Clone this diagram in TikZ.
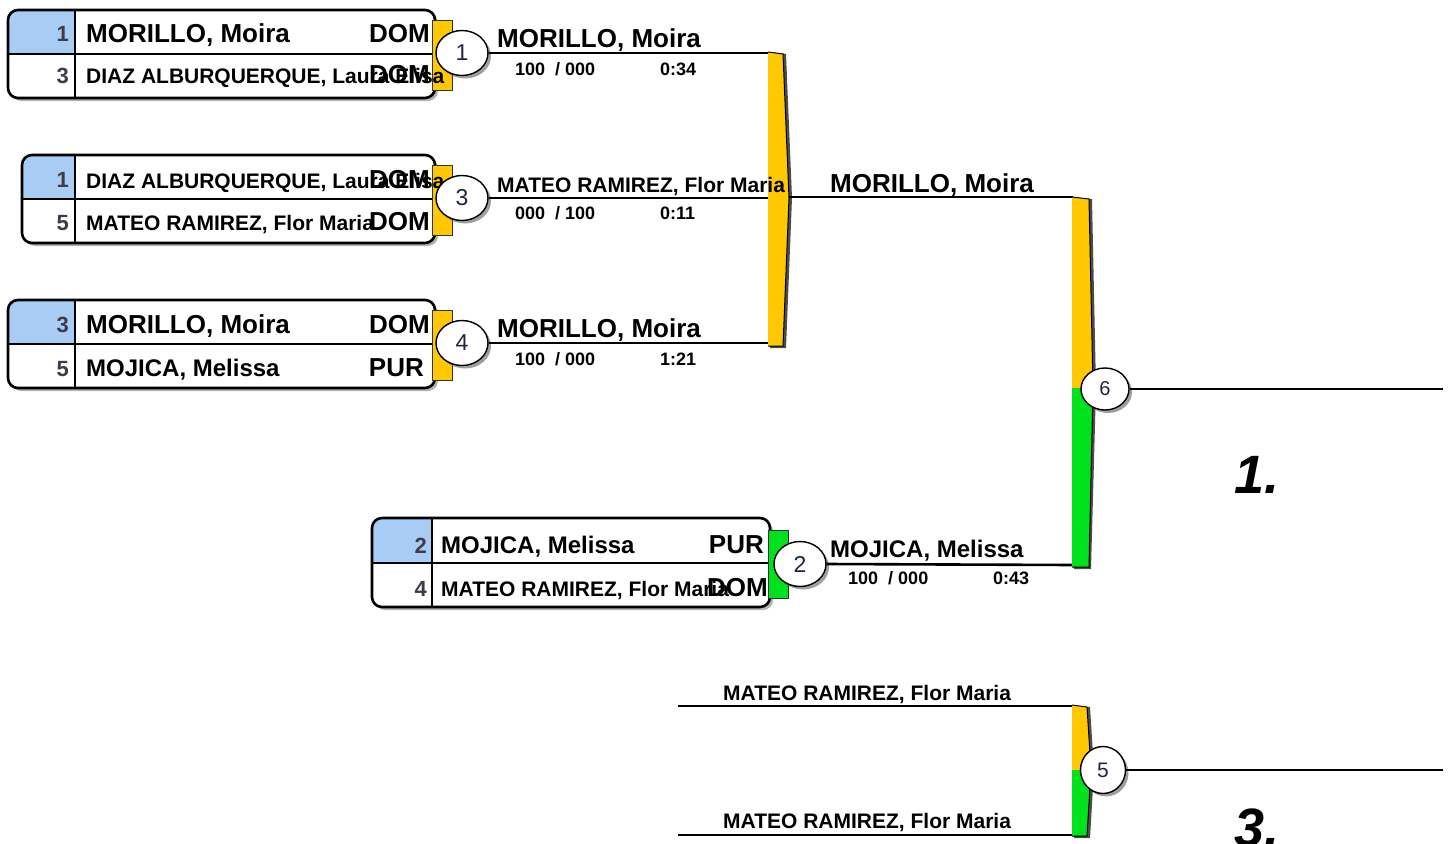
\documentclass[tikz,border=0pt]{standalone}
\usepackage{fontspec}
\setmainfont{Liberation Sans}
\usetikzlibrary{shapes.geometric,shadows}
\definecolor{gold}{RGB}{255,200,0}
\definecolor{grn}{RGB}{0,225,30}
\definecolor{seedblue}{RGB}{168,204,244}
\definecolor{seedgray}{RGB}{60,60,75}
\definecolor{numnavy}{RGB}{35,35,65}
\newcommand{\fbig}{\fontsize{26}{26}\selectfont\bfseries}
\newcommand{\fbigm}{\fontsize{24}{24}\selectfont\bfseries}
\newcommand{\fmid}{\fontsize{21}{21}\selectfont\bfseries}
\newcommand{\fsc}{\fontsize{18}{18}\selectfont\bfseries}
% #1 left, #2 top, #3 right, #4 bottom, #5 seed col right, #6 divider y
\newcommand{\entryframe}[6]{%
  \fill[black!30,rounded corners=10pt] (#1+3,#2+3) rectangle (#3+3,#4+3);
  \fill[white,rounded corners=10pt] (#1,#2) rectangle (#3,#4);
  \begin{scope}
    \clip[rounded corners=10pt] (#1,#2) rectangle (#3,#4);
    \fill[seedblue] (#1,#2) rectangle (#5,#6);
  \end{scope}
  \draw[line width=1.2pt] (#1,#6) -- (#3,#6);
  \draw[line width=1.2pt] (#5,#2) -- (#5,#4);
  \draw[line width=2.6pt,rounded corners=10pt] (#1,#2) rectangle (#3,#4);
}
\tikzset{
  mcirc/.style={ellipse,draw,line width=1.4pt,fill=white,minimum width=52pt,
    minimum height=45pt,inner sep=0pt,text=numnavy,font=\fontsize{23}{23}\selectfont,
    drop shadow={shadow xshift=3pt,shadow yshift=-3pt,fill=black!75}},
  wline/.style={line width=2.6pt},
  big/.style={font=\fbig,inner sep=0pt},
  bigm/.style={font=\fbigm,inner sep=0pt},
  mid/.style={font=\fmid,inner sep=0pt},
  sc/.style={font=\fsc,inner sep=0pt},
  seed/.style={font=\fontsize{22}{22}\selectfont\bfseries,inner sep=0pt,text=seedgray,anchor=base east},
  tab/.style={draw=black!80,line width=0.8pt}
}
\begin{document}
\begin{tikzpicture}[x=1pt,y=-1pt]
\useasboundingbox (0,0) rectangle (1450,843);

% group bar (drawn first so texts lie on top)
\fill[black!70] (770,52) -- (786,54) -- (792,198) -- (786,348) -- (770,348) -- cycle;
\fill[gold] (768,52) -- (783,54) -- (789,198) -- (783,346) -- (768,346) -- cycle;
\draw[line width=1pt] (768,52) -- (783,54) -- (789,198) -- (783,346) -- (768,346);

% ---------------- Match 1 ----------------
\entryframe{8}{10}{435}{98}{75}{54}
\filldraw[fill=gold,tab] (432,20) rectangle (452,90);
\node[seed] (s1a) at (69,42) {1};
\node[big,anchor=base west] (n1a) at (86,43) {MORILLO, Moira};
\node[big,anchor=base east] (c1a) at (430,43) {DOM};
\node[seed] (s1b) at (69,84) {3};
\node[mid,anchor=base west] (n1b) at (86,84) {DIAZ ALBURQUERQUE, Laura Elisa};
\node[big,anchor=base east] (c1b) at (430,84) {DOM};
\node[mcirc] (m1) at (462,53) {1};
\coordinate (g1a) at (768,53);
\draw[wline] (m1.east) -- (g1a);
\node[big,anchor=base west] (w1) at (497,48) {MORILLO, Moira};
\node[sc,anchor=base west] (sc1) at (515,75) {100\ \ / 000};
\node[sc,anchor=base west] (t1) at (660,75) {0:34};

% ---------------- Match 3 ----------------
\entryframe{22}{155}{435}{243}{75}{199}
\filldraw[fill=gold,tab] (432,165) rectangle (452,235);
\node[seed] (s3a) at (69,187) {1};
\node[mid,anchor=base west] (n3a) at (86,188) {DIAZ ALBURQUERQUE, Laura Elisa};
\node[big,anchor=base east] (c3a) at (430,188) {DOM};
\node[seed] (s3b) at (69,230) {5};
\node[mid,anchor=base west] (n3b) at (86,230) {MATEO RAMIREZ, Flor Maria};
\node[big,anchor=base east] (c3b) at (430,230) {DOM};
\node[mcirc] (m3) at (462,198) {3};
\coordinate (g1b) at (768,198);
\draw[wline] (m3.east) -- (g1b);
\node[mid,anchor=base west] (w3) at (497,192) {MATEO RAMIREZ, Flor Maria};
\node[sc,anchor=base west] (sc3) at (515,219) {000\ \ / 100};
\node[sc,anchor=base west] (t3) at (660,219) {0:11};

% ---------------- Match 4 ----------------
\entryframe{8}{300}{435}{388}{75}{344}
\filldraw[fill=gold,tab] (432,310) rectangle (452,380);
\node[seed] (s4a) at (69,332) {3};
\node[big,anchor=base west] (n4a) at (86,333) {MORILLO, Moira};
\node[big,anchor=base east] (c4a) at (430,333) {DOM};
\node[seed] (s4b) at (69,376) {5};
\node[bigm,anchor=base west] (n4b) at (86,376) {MOJICA, Melissa};
\node[big,anchor=base east] (c4b) at (424,376) {PUR};
\node[mcirc] (m4) at (462,343) {4};
\coordinate (g1c) at (768,343);
\draw[wline] (m4.east) -- (g1c);
\node[big,anchor=base west] (w4) at (497,337) {MORILLO, Moira};
\node[sc,anchor=base west] (sc4) at (515,365) {100\ \ / 000};
\node[sc,anchor=base west] (t4) at (660,365) {1:21};

\coordinate (g1out) at (789,197);
\coordinate (f6a) at (1073,197);
\draw[wline] (g1out) -- (f6a);
\node[big,anchor=base west] (wg) at (830,192) {MORILLO, Moira};

% ---------------- Match 2 ----------------
\entryframe{372}{518}{770}{607}{432}{563}
\filldraw[fill=grn,tab] (768,530) rectangle (788,598);
\node[seed] (s2a) at (427,553) {2};
\node[bigm,anchor=base west] (n2a) at (441,553) {MOJICA, Melissa};
\node[big,anchor=base east] (c2a) at (764,553) {PUR};
\node[seed] (s2b) at (427,596) {4};
\node[mid,anchor=base west] (n2b) at (441,596) {MATEO RAMIREZ, Flor Maria};
\node[big,anchor=base east] (c2b) at (768,596) {DOM};
\node[mcirc] (m2) at (800,564) {2};
\coordinate (f6b) at (1073,565);
\draw[wline] (m2.east) -- (f6b);
\node[bigm,anchor=base west] (w2) at (830,557) {MOJICA, Melissa};
\node[sc,anchor=base west] (sc2) at (848,584) {100\ \ / 000};
\node[sc,anchor=base west] (t2) at (993,584) {0:43};

% ---------------- Final (6) ----------------
\fill[black!70] (1074,198) -- (1092,199) -- (1096,388) -- (1091,569) -- (1074,569) -- cycle;
\fill[gold] (1072,197) -- (1089,199) -- (1093,388) -- (1072,388) -- cycle;
\fill[grn] (1072,388) -- (1093,388) -- (1089,567) -- (1072,567) -- cycle;
\draw[line width=1pt] (1072,197) -- (1089,199) -- (1093,388) -- (1089,567) -- (1072,567);
\node[mcirc,minimum width=48pt,minimum height=42pt,font=\fontsize{20}{20}\selectfont] (m6) at (1105,389) {6};
\coordinate (e6) at (1443,389);
\draw[line width=2pt] (m6.east) -- (e6);
\node[inner sep=0pt,anchor=base west,font=\fontsize{54}{54}\selectfont\bfseries\itshape] (p1) at (1234,493) {1.};

% ---------------- Bronze (5) ----------------
\coordinate (l5a) at (678,706);
\coordinate (r5a) at (1073,706);
\coordinate (l5b) at (678,835);
\coordinate (r5b) at (1073,835);
\draw[wline] (l5a) -- (r5a);
\draw[wline] (l5b) -- (r5b);
\node[mid,anchor=base west] (b5a) at (723,700) {MATEO RAMIREZ, Flor Maria};
\node[mid,anchor=base west] (b5b) at (723,828) {MATEO RAMIREZ, Flor Maria};
\fill[black!70] (1074,706) -- (1090,707) -- (1094,770) -- (1090,838) -- (1074,838) -- cycle;
\fill[gold] (1072,705) -- (1087,707) -- (1091,770) -- (1072,770) -- cycle;
\fill[grn] (1072,770) -- (1091,770) -- (1087,836) -- (1072,836) -- cycle;
\draw[line width=1pt] (1072,705) -- (1087,707) -- (1091,770) -- (1087,836) -- (1072,836);
\node[mcirc,minimum width=45pt,minimum height=47pt,font=\fontsize{21}{21}\selectfont] (m5) at (1103,770) {5};
\coordinate (e5) at (1443,770);
\draw[wline] (m5.east) -- (e5);
\node[inner sep=0pt,anchor=base west,font=\fontsize{54}{54}\selectfont\bfseries\itshape] (p3) at (1234,846) {3.};
\end{tikzpicture}
\end{document}
